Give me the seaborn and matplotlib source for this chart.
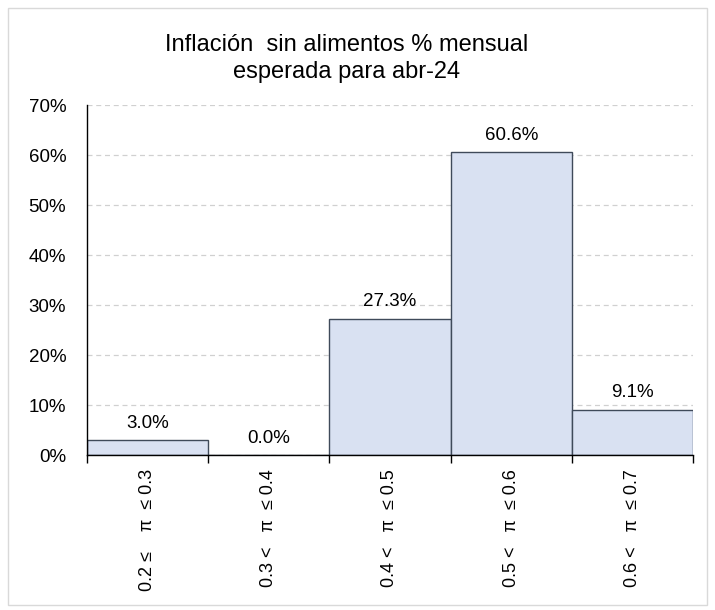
import matplotlib
matplotlib.use("Agg")
import matplotlib.pyplot as plt
import seaborn as sns
import pandas as pd
from matplotlib.ticker import FixedLocator, PercentFormatter
from matplotlib.patches import Rectangle

categories = ["0.2 ≤    π  ≤ 0.3", "0.3 <   π  ≤ 0.4", "0.4 <   π  ≤ 0.5",
              "0.5 <   π  ≤ 0.6", "0.6 <   π  ≤ 0.7"]
values = [3.0, 0.0, 27.3, 60.6, 9.1]
value_labels = ["3.0%", "0.0%", "27.3%", "60.6%", "9.1%"]
y_ticks = [0, 10, 20, 30, 40, 50, 60, 70]
title_lines = ["Inflación  sin alimentos % mensual", "esperada para abr-24"]

sns.set_theme(style="white")
plt.rcParams['font.family'] = ['Liberation Sans', 'DejaVu Sans']

df = pd.DataFrame({"cat": categories, "val": values})

fig = plt.figure(figsize=(7.15, 6.1), dpi=100)
ax = fig.add_axes([87/715, 1 - 455/610, (693-87)/715, 350/610])

sns.barplot(data=df, x="cat", y="val", ax=ax, width=1.0, color="#D9E1F2",
            edgecolor="#3F4A5A", linewidth=1.0, saturation=1)

ax.set_ylim(0, 70)
ax.set_xlim(-0.5, len(categories) - 0.5)
ax.set_yticks(y_ticks)
ax.yaxis.set_major_formatter(PercentFormatter(decimals=0))
ax.yaxis.grid(True, linestyle=(0, (4, 3)), color="#D0D0D0", linewidth=0.9)
ax.set_axisbelow(True)
ax.set_xlabel("")
ax.set_ylabel("")

for s in ["top", "right"]:
    ax.spines[s].set_visible(False)
for s in ["left", "bottom"]:
    ax.spines[s].set_color("black")
    ax.spines[s].set_linewidth(1.0)

ax.tick_params(axis="y", length=0, labelsize=13.5, pad=15, colors="black")
ax.tick_params(axis="x", which="major", length=0, labelsize=13, pad=10, colors="black")
for lbl in ax.get_xticklabels():
    lbl.set_rotation(90)
    lbl.set_va("top")
    lbl.set_ha("center")

edges = [i - 0.5 for i in range(len(categories) + 1)]
ax.xaxis.set_minor_locator(FixedLocator(edges))
ax.tick_params(axis="x", which="minor", length=6, width=1.0, direction="out", color="black", bottom=True)

for i, (v, t) in enumerate(zip(values, value_labels)):
    ax.annotate(t, (i, v), xytext=(0, 6), textcoords="offset points",
                ha="center", va="bottom", fontsize=13.5, color="black")

for line, base in zip(title_lines, [51, 78]):
    fig.text(347/715, 1 - base/610, line, ha="center", va="baseline",
             fontsize=17, color="black")

fig.patches.append(Rectangle((8/715, 1 - 605/610), 699/715, 597/610,
                             transform=fig.transFigure, fill=False,
                             edgecolor="#D9D9D9", linewidth=1.0))

fig.savefig("out.png", dpi=100)
